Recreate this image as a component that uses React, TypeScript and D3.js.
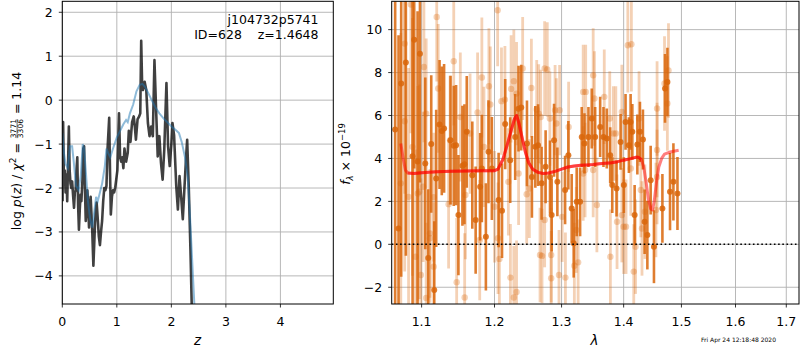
import React, { useEffect, useRef } from "react";
import * as d3 from "d3";

// ---- left panel: log p(z) ----
const pzZ = [0.005, 0.015, 0.03, 0.045, 0.06, 0.075, 0.09, 0.105, 0.12, 0.135, 0.15, 0.165, 0.18, 0.2, 0.215, 0.23, 0.245, 0.26, 0.275, 0.29, 0.305, 0.32, 0.335, 0.35, 0.37, 0.385, 0.4, 0.415, 0.43, 0.445, 0.46, 0.475, 0.49, 0.505, 0.52, 0.535, 0.55, 0.57, 0.585, 0.6, 0.615, 0.63, 0.65, 0.67, 0.69, 0.71, 0.73, 0.75, 0.77, 0.79, 0.81, 0.83, 0.86, 0.875, 0.89, 0.91, 0.93, 0.95, 0.97, 0.99, 1.01, 1.04, 1.06, 1.08, 1.1, 1.12, 1.14, 1.17, 1.2, 1.22, 1.25, 1.28, 1.31, 1.33, 1.35, 1.38, 1.41, 1.43, 1.447, 1.465, 1.48, 1.51, 1.54, 1.57, 1.6, 1.63, 1.66, 1.69, 1.72, 1.75, 1.78, 1.81, 1.84, 1.87, 1.91, 1.94, 1.97, 2.0, 2.02, 2.05, 2.09, 2.12, 2.15, 2.18, 2.21, 2.24, 2.27, 2.29, 2.32, 2.35, 2.38, 2.42];
const pzLog = [-2.3, -0.5, -1.9, -1.6, -2.1, -1.7, -2.3, -1.5, -0.6, -1.6, -1.9, -2.0, -1.85, -2.2, -2.45, -2.1, -2.05, -1.6, -1.3, -2.4, -2.95, -2.5, -2.15, -2.3, -1.8, -1.1, -1.05, -2.0, -2.75, -2.5, -2.05, -2.4, -2.9, -2.5, -2.2, -2.6, -3.0, -3.77, -3.3, -2.8, -2.5, -2.33, -2.7, -3.1, -3.3, -3.0, -2.75, -2.3, -2.0, -2.05, -1.95, -1.1, -0.4, -1.6, -2.6, -2.2, -2.05, -2.1, -2.0, -1.8, -1.6, -0.3, -1.3, -1.4, -1.3, -1.55, -1.1, -1.4, -1.2, -0.7, -0.95, -0.5, -0.37, -0.6, -0.9, -0.44, -0.37, -0.3, 1.35, 0.3, 0.23, 0.42, 0.23, -0.52, -0.82, -0.6, -0.82, 0.91, -0.2, -1.28, -0.82, -1.43, -1.81, -1.13, 0.39, -1.05, -1.5, -1.0, -0.52, -0.8, -1.96, -2.49, -1.73, -2.2, -2.71, -2.0, -1.3, -0.9, -2.0, -3.4, -5.0, -7.0];

const priorZ = [0.0, 0.03, 0.06, 0.1, 0.14, 0.18, 0.21, 0.25, 0.3, 0.34, 0.375, 0.4, 0.43, 0.47, 0.51, 0.55, 0.58, 0.62, 0.65, 0.69, 0.73, 0.78, 0.81, 0.84, 0.88, 0.93, 1.0, 1.06, 1.12, 1.17, 1.2, 1.24, 1.3, 1.36, 1.42, 1.47, 1.52, 1.58, 1.64, 1.7, 1.78, 1.86, 1.94, 2.02, 2.08, 2.14, 2.19, 2.25, 2.3, 2.34, 2.38, 2.42, 2.46];
const priorLog = [-0.75, -1.2, -1.45, -1.55, -1.05, -1.05, -1.4, -1.95, -2.05, -1.7, -1.0, -1.1, -1.6, -2.3, -2.7, -2.9, -2.6, -2.2, -2.3, -2.1, -1.9, -1.5, -1.1, -1.2, -1.3, -1.1, -0.85, -0.7, -0.55, -0.45, -0.5, -0.3, -0.1, 0.2, 0.35, 0.37, 0.3, 0.15, 0.0, -0.15, -0.3, -0.42, -0.52, -0.62, -0.68, -0.75, -0.95, -1.3, -1.75, -2.6, -3.6, -4.6, -6.0];

const zTicks = [0, 1, 2, 3, 4];
const pzTicks = [-4, -3, -2, -1, 0, 1, 2];

// ---- right panel: spectrum ----
const darkWave = [1.0658, 1.0701, 1.0735, 1.0795, 1.0882, 1.0903, 1.0947, 1.0978, 1.1048, 1.1087, 1.1127, 1.1167, 1.1193, 1.1238, 1.1268, 1.1299, 1.1386, 1.143, 1.1462, 1.1494, 1.1549, 1.1577, 1.1609, 1.1686, 1.1733, 1.1796, 1.182, 1.1877, 1.1914, 1.1962, 1.2059, 1.2108, 1.2154, 1.2227, 1.23, 1.2349, 1.2389, 1.2474, 1.2548, 1.2599, 1.264, 1.2694, 1.2755, 1.2822, 1.2847, 1.2884, 1.2935, 1.3055, 1.3106, 1.3158, 1.319, 1.3237, 1.3291, 1.3317, 1.336, 1.3424, 1.3477, 1.3532, 1.3613, 1.3667, 1.3721, 1.3777, 1.3811, 1.3882, 1.3949, 1.4003, 1.4032, 1.4088, 1.4117, 1.4146, 1.4185, 1.4231, 1.4275, 1.4326, 1.4355, 1.4402, 1.4459, 1.4516, 1.4663, 1.4709, 1.4751, 1.4797, 1.4857, 1.4929];
const darkFlux = [5.35, 0.74, 7.49, 8.47, 4.1, 9.53, 3.86, 8.88, 3.77, -0.64, 4.67, -2.13, 3.07, 5.58, 5.28, 5.4, 4.85, 4.59, 4.62, 1.36, 3.66, 3.73, 5.24, 3.22, 1.13, 2.68, 3.53, 0.35, 4.31, 3.53, 2.06, 1.56, 5.6, 3.92, 5.0, 6.32, 6.37, 4.7, 3.14, 4.54, 4.62, 2.84, 3.61, 3.14, 1.36, 4.85, 2.91, 2.53, 4.15, 1.67, 0.05, 1.98, 1.98, 5.0, 4.7, 5.0, 5.86, 5.0, 5.47, 5.0, 4.93, 4.15, 2.76, 2.6, 4.77, 2.76, 5.7, 4.62, 5.7, 5.24, 1.36, 4.65, 5.24, 4.88, 1.05, 0.43, 2.99, -0.11, 1.67, 7.26, 7.56, 2.45, 2.91, 2.37];
const darkErr = [9, 9, 9, 9, 8, 6, 7, 6, 4, 3.2, 3.2, 3.2, 3.2, 3, 3, 3, 3, 2.8, 2.8, 2.8, 2.8, 2.8, 2.6, 2.5, 2.5, 2.5, 2.5, 2.5, 2.4, 2.4, 2.2, 2.2, 2.1, 2, 2, 2, 2, 2, 1.9, 1.9, 1.9, 1.7, 1.7, 1.7, 1.7, 1.7, 1.6, 1.6, 1.6, 1.6, 1.6, 1.6, 1.6, 1.4, 1.4, 1.4, 1.4, 1.4, 1.4, 1.4, 1.4, 1.3, 1.3, 1.3, 1.3, 1.3, 1.3, 1.3, 1.3, 1.3, 1.4, 1.4, 1.4, 1.4, 1.5, 1.6, 1.6, 1.7, 1.6, 1.6, 1.6, 1.8, 1.8, 1.7];

const lightWave = [1.073, 1.078, 1.078, 1.083, 1.086, 1.088, 1.092, 1.095, 1.097, 1.099, 1.102, 1.103, 1.106, 1.106, 1.111, 1.111, 1.116, 1.116, 1.12, 1.122, 1.136, 1.138, 1.143, 1.147, 1.152, 1.158, 1.159, 1.1655, 1.176, 1.179, 1.182, 1.185, 1.192, 1.194, 1.2, 1.2045, 1.205, 1.207, 1.21, 1.215, 1.22, 1.223, 1.224, 1.228, 1.228, 1.232, 1.232, 1.235, 1.241, 1.247, 1.251, 1.254, 1.262, 1.265, 1.267, 1.268, 1.27, 1.274, 1.274, 1.278, 1.282, 1.284, 1.284, 1.29, 1.292, 1.296, 1.297, 1.301, 1.306, 1.311, 1.32, 1.323, 1.326, 1.334, 1.334, 1.337, 1.338, 1.35, 1.35, 1.352, 1.356, 1.368, 1.377, 1.378, 1.383, 1.387, 1.389, 1.397, 1.397, 1.4, 1.404, 1.407, 1.412, 1.413, 1.417, 1.42, 1.426, 1.429, 1.431, 1.436, 1.455, 1.457, 1.457, 1.457, 1.47, 1.475, 1.477];
const lightFlux = [2.84, 9.35, 5.73, 2.21, 11.17, 4.54, -0.58, 2.37, 2.45, -1.43, 2.68, 8.26, 6.09, -2.5, 0.28, 0.51, -1.04, 2.2, 10.59, 7.26, 1.87, 4.85, 8.53, -1.77, 5.93, -2.48, 2.3, 5.16, 6.14, 0.2, 7.77, 4.54, 7.36, 6.51, 1.75, 10.9, 0.28, -0.68, 6.67, 6.74, 2.91, -1.55, 7.24, 7.6, -2.48, 7.02, -2.22, 3.3, 8.19, 2.33, 2.6, 7.28, 6.28, 6.09, -0.5, 5.93, -0.54, 8.19, 1.13, 8.14, 5.86, -0.5, -1.58, 6.25, 5.63, -1.43, 6.25, 1.28, -1.55, 5.47, -1.0, 0.67, -0.84, 7.1, 3.3, 3.46, 7.1, 7.87, 3.46, 6.79, 1.83, 6.87, 5.86, -0.58, 5.16, 5.16, 1.05, 6.17, 1.36, 0.82, 0.82, 9.27, 3.53, 9.32, -1.27, -0.11, 5.86, 2.53, 0.74, 1.52, 1.6, 4.39, 6.33, 3.14, 7.49, 6.56, 8.1];
const lightErr = [7, 7, 7, 6, 6, 6, 5, 5, 5, 4.5, 3.5, 3.5, 3.5, 3.5, 3, 3, 3, 3, 3, 3, 3, 3, 3, 3, 3, 3, 3, 2.8, 2.8, 2.8, 2.8, 2.8, 2.7, 2.7, 2.6, 2.6, 2.6, 2.6, 2.5, 2.5, 2.5, 2.5, 2.5, 2.4, 2.4, 2.4, 2.4, 2.4, 2.4, 2.3, 2.3, 2.3, 2.3, 2.3, 2.2, 2.2, 2.2, 2.2, 2.2, 2.2, 2.2, 2.2, 2.2, 2.1, 2.1, 2.1, 2.1, 2.1, 2.1, 2.1, 2, 2, 2, 2.2, 2.2, 2.2, 2.2, 2.2, 2.2, 2.2, 2.2, 2.2, 2.2, 2.2, 2.2, 2.2, 2.2, 2.2, 2.2, 2.2, 2.2, 2.2, 2.2, 2.2, 2.2, 2.2, 2.2, 2.2, 2.2, 2.2, 2.2, 2.2, 2.2, 2.2, 2.2, 2.2, 2.2];

const modelWave = [1.073, 1.076, 1.079, 1.082, 1.09, 1.1, 1.12, 1.14, 1.16, 1.18, 1.2, 1.205, 1.212, 1.218, 1.224, 1.229, 1.232, 1.235, 1.24, 1.245, 1.25, 1.256, 1.264, 1.272, 1.28, 1.29, 1.3, 1.31, 1.32, 1.33, 1.34, 1.35, 1.36, 1.37, 1.38, 1.39, 1.4, 1.41, 1.42, 1.425, 1.43, 1.434, 1.438, 1.442, 1.446, 1.449, 1.452, 1.456, 1.46, 1.465, 1.47, 1.48, 1.495];
const modelFlux = [4.7, 4.0, 3.45, 3.32, 3.3, 3.33, 3.38, 3.4, 3.42, 3.43, 3.43, 3.5, 3.95, 4.6, 5.3, 5.85, 6.0, 5.7, 5.0, 4.3, 3.8, 3.5, 3.35, 3.3, 3.32, 3.4, 3.5, 3.6, 3.65, 3.68, 3.7, 3.72, 3.75, 3.78, 3.8, 3.85, 3.92, 3.98, 4.05, 4.05, 3.95, 3.6, 2.9, 2.1, 1.65, 1.6, 2.0, 2.9, 3.6, 4.0, 4.2, 4.3, 4.38];

const waveTicks = [1.1, 1.2, 1.3, 1.4, 1.5, 1.6, 1.7];
const fluxTicks = [-2, 0, 2, 4, 6, 8, 10];

const FONT = "DejaVu Sans";
const GRID = "#b0b0b0";
const ORANGE = "#d9660b";

const fmt = (v) => (v < 0 ? "\u2212" + Math.abs(v) : String(v));

const drawAxes = (svg, x, y, xt, yt, xf, id) => {
  const [x0, x1] = x.range();
  const [y0, y1] = y.range();
  const g = svg.append("g");
  // grid
  g.selectAll(".vg").data(xt).enter().append("line")
    .attr("x1", (d) => x(d)).attr("x2", (d) => x(d))
    .attr("y1", y1).attr("y2", y0)
    .attr("stroke", GRID).attr("stroke-width", 0.9);
  g.selectAll(".hg").data(yt).enter().append("line")
    .attr("x1", x0).attr("x2", x1)
    .attr("y1", (d) => y(d)).attr("y2", (d) => y(d))
    .attr("stroke", GRID).attr("stroke-width", 0.9);
  svg.append("clipPath").attr("id", id).append("rect")
    .attr("x", x0).attr("y", y1).attr("width", x1 - x0).attr("height", y0 - y1);
  return g;
};

const drawFrame = (svg, x, y, xt, yt, xf) => {
  const [x0, x1] = x.range();
  const [y0, y1] = y.range();
  const g = svg.append("g");
  g.append("rect").attr("x", x0).attr("y", y1).attr("width", x1 - x0).attr("height", y0 - y1)
    .attr("fill", "none").attr("stroke", "black").attr("stroke-width", 1);
  xt.forEach((t) => {
    g.append("line").attr("x1", x(t)).attr("x2", x(t)).attr("y1", y0).attr("y2", y0 + 3.5)
      .attr("stroke", "black").attr("stroke-width", 0.8);
    g.append("text").attr("x", x(t)).attr("y", 325.5).attr("text-anchor", "middle")
      .attr("font-size", 12.5).attr("font-family", FONT).text(xf(t));
  });
  yt.forEach((t) => {
    g.append("line").attr("x1", x0 - 3.5).attr("x2", x0).attr("y1", y(t)).attr("y2", y(t))
      .attr("stroke", "black").attr("stroke-width", 0.8);
    g.append("text").attr("x", x0 - 9.5).attr("y", y(t) + 4.5).attr("text-anchor", "end")
      .attr("font-size", 12.5).attr("font-family", FONT).text(fmt(t));
  });
};

const drawPz = (svg) => {
  const x = d3.scaleLinear().domain([0, 4.97]).range([62.3, 333.3]);
  const y = d3.scaleLinear().domain([-4.64, 2.25]).range([304, 1.3]);
  drawAxes(svg, x, y, zTicks, pzTicks, null, "clipPz");

  const g = svg.append("g").attr("clip-path", "url(#clipPz)");
  const line = (zs) => d3.line().x((d, i) => x(zs[i])).y((d) => y(d));
  g.append("path").attr("d", line(pzZ)(pzLog))
    .attr("fill", "none").attr("stroke", "black").attr("stroke-opacity", 0.75)
    .attr("stroke-width", 2.6).attr("stroke-linejoin", "round");
  g.append("path").attr("d", line(priorZ)(priorLog))
    .attr("fill", "none").attr("stroke", "#1f77b4").attr("stroke-opacity", 0.5)
    .attr("stroke-width", 2);

  drawFrame(svg, x, y, zTicks, pzTicks, (t) => String(t));

  svg.append("text").attr("x", 318.5).attr("y", 24).attr("text-anchor", "end")
    .attr("font-size", 12.5).attr("font-family", FONT).text("j104732p5741");
  svg.append("text").attr("x", 318.5).attr("y", 38.5).attr("text-anchor", "end")
    .attr("font-size", 12.5).attr("font-family", FONT).style("white-space", "pre")
    .text("ID=628    z=1.4648");

  svg.append("text").attr("x", 197.5).attr("y", 344.5).attr("text-anchor", "middle")
    .attr("font-size", 13.5).attr("font-family", FONT).attr("font-style", "italic").text("z");

  // rotated y label with a small stacked fraction
  const lab = svg.append("g").attr("font-family", FONT).attr("font-size", 12.5);
  const t1 = lab.append("text").attr("x", 0).attr("y", 0);
  t1.append("tspan").text("log ");
  t1.append("tspan").attr("font-style", "italic").text("p");
  t1.append("tspan").text("(");
  t1.append("tspan").attr("font-style", "italic").text("z");
  t1.append("tspan").text(") / ");
  t1.append("tspan").attr("font-style", "italic").text("\u03c7");
  t1.append("tspan").attr("dy", -5).attr("font-size", 9).text("2");
  t1.append("tspan").attr("dy", 5).style("white-space", "pre").text(" = ");
  t1.style("white-space", "pre");
  const w1 = t1.node().getComputedTextLength();
  const num = lab.append("text").attr("x", w1 + 1).attr("y", -4.8).attr("font-size", 7.5).text("3771");
  const wf = num.node().getComputedTextLength();
  lab.append("text").attr("x", w1 + 1).attr("y", 2.2).attr("font-size", 7.5).text("3306");
  lab.append("line").attr("x1", w1 + 1).attr("x2", w1 + 1 + wf).attr("y1", -3.6).attr("y2", -3.6)
    .attr("stroke", "black").attr("stroke-width", 0.6);
  const t2 = lab.append("text").attr("x", w1 + wf + 2).attr("y", 0).style("white-space", "pre").text(" = 1.14");
  const total = w1 + wf + 2 + t2.node().getComputedTextLength();
  lab.attr("transform", `translate(20.7,${151 + total / 2}) rotate(-90)`);
};

const drawSpec = (svg) => {
  const x = d3.scaleLog().domain([1.0614, 1.726]).range([391.7, 799]);
  const y = d3.scaleLinear().domain([-2.78, 11.32]).range([304, 1.3]);
  drawAxes(svg, x, y, waveTicks, fluxTicks, null, "clipSpec");

  const g = svg.append("g").attr("clip-path", "url(#clipSpec)");

  const errs = (wave, flux, err, op, w, r) => {
    wave.forEach((l, i) => {
      g.append("line").attr("x1", x(l)).attr("x2", x(l))
        .attr("y1", y(flux[i] - err[i])).attr("y2", y(flux[i] + err[i]))
        .attr("stroke", ORANGE).attr("stroke-opacity", op).attr("stroke-width", w);
      g.append("circle").attr("cx", x(l)).attr("cy", y(flux[i])).attr("r", r)
        .attr("fill", ORANGE).attr("fill-opacity", op);
    });
  };
  errs(lightWave, lightFlux, lightErr, 0.3, 2.8, 3.2);
  errs(darkWave, darkFlux, darkErr, 0.85, 2.6, 3);

  const idx = d3.range(modelWave.length);
  const mline = d3.line().x((i) => x(modelWave[i])).y((i) => y(modelFlux[i]));
  [idx.filter((i) => modelWave[i] <= 1.43), idx.filter((i) => modelWave[i] >= 1.082)].forEach((seg) => {
    g.append("path").attr("d", mline(seg)).attr("fill", "none")
      .attr("stroke", "red").attr("stroke-opacity", 0.5).attr("stroke-width", 3)
      .attr("stroke-linejoin", "round");
  });

  g.append("line").attr("x1", 391.7).attr("x2", 799).attr("y1", y(0)).attr("y2", y(0))
    .attr("stroke", "black").attr("stroke-width", 1.6).attr("stroke-dasharray", "1.6,2.6");

  drawFrame(svg, x, y, waveTicks, fluxTicks, (t) => t.toFixed(1));

  svg.append("text").attr("x", 594.5).attr("y", 344.5).attr("text-anchor", "middle")
    .attr("font-size", 13.5).attr("font-family", FONT).attr("font-style", "italic").text("\u03bb");

  const yl = svg.append("text").attr("transform", "translate(350,154) rotate(-90)")
    .attr("text-anchor", "middle").attr("font-size", 12.5).attr("font-family", FONT);
  yl.append("tspan").attr("font-style", "italic").text("f");
  yl.append("tspan").attr("dy", 3).attr("font-size", 8.5).attr("font-style", "italic").text("\u03bb");
  yl.append("tspan").attr("dy", -3).style("white-space", "pre").text(" \u00d7 10");
  yl.append("tspan").attr("dy", -5).attr("font-size", 8.5).text("\u221219");
  yl.style("white-space", "pre");

  svg.append("text").attr("x", 701).attr("y", 341.5).attr("font-size", 6)
    .attr("font-family", FONT).text("Fri Apr 24 12:18:48 2020");
};

export default function App() {
  const ref = useRef(null);

  useEffect(() => {
    const svg = d3.select(ref.current);
    svg.selectAll("*").remove();
    drawPz(svg);
    drawSpec(svg);
  }, []);

  return (
    <svg ref={ref} width={800} height={350}
      style={{ position: "absolute", left: 0, top: 0, background: "white" }} />
  );
}
